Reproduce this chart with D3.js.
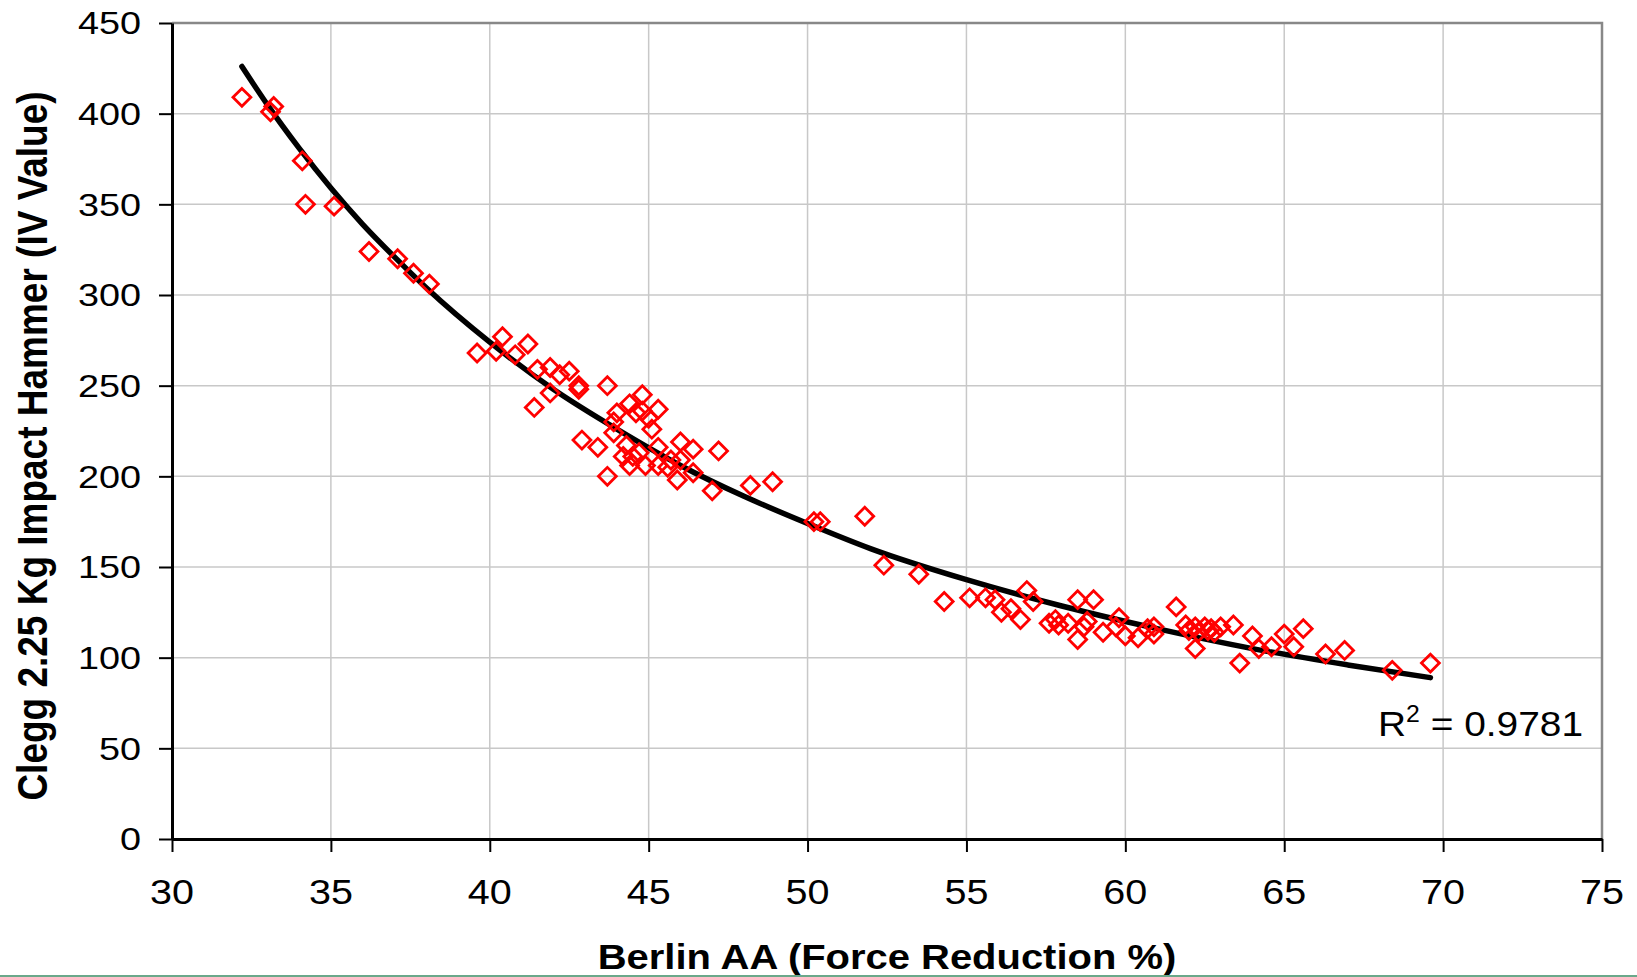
<!DOCTYPE html>
<html>
<head>
<meta charset="utf-8">
<script src="https://cdn.jsdelivr.net/npm/d3@7"></script>
<style>
  html, body { margin: 0; padding: 0; background: #fff; }
  svg { display: block; }
  text { font-family: "Liberation Sans", Arial, sans-serif; fill: #000; }
</style>
</head>
<body>
<div id="chart"></div>
<script>
// Berlin AA force reduction (%) vs Clegg IV value
const forceReduction = [
    32.2, 33.2, 33.1, 34.1, 34.2, 35.1, 36.2, 37.1, 37.6, 38.1,
    39.6, 40.2, 40.4, 40.8, 41.2, 41.4, 41.5, 41.9, 42.2, 42.5,
    41.9, 42.8, 42.8, 42.9, 43.4, 43.7, 43.7, 43.9, 44.0, 43.9,
    44.4, 44.8, 45.3, 44.6, 44.8, 45.0, 45.1, 44.3, 44.2, 44.5,
    44.4, 44.9, 45.3, 45.3, 45.6, 45.7, 46.0, 46.0, 46.4, 45.9,
    46.4, 47.2, 47.0, 48.2, 48.9, 44.7, 50.2, 50.4, 51.8, 52.4,
    53.5, 54.3, 55.1, 55.6, 55.9, 56.1, 56.4, 56.7, 56.9, 57.1,
    57.6, 57.8, 57.9, 58.2, 58.5, 58.5, 58.8, 59.0, 58.7, 59.3,
    59.8, 59.7, 60.0, 60.4, 60.7, 60.9, 60.9, 61.6, 61.9, 62.2,
    62.2, 62.5, 62.7, 63.0, 63.4, 63.6, 64.0, 64.2, 64.6, 65.0,
    65.3, 65.6, 66.3, 66.9, 68.4, 69.6, 62.0, 62.3, 62.6, 62.8
];
const ivValue = [
    409, 404, 401, 374, 350, 349, 324, 320, 312, 306,
    268, 269, 277, 267, 273, 238, 259, 260, 256, 258,
    246, 250, 248, 220, 216, 250, 200, 224, 235, 230,
    240, 245, 237, 235, 236, 232, 226, 217, 211, 211,
    206, 206, 206, 216, 205, 209, 209, 219, 215, 198,
    202, 214, 192, 195, 197, 213, 175, 175, 178, 151,
    146, 131, 133, 133, 132, 125, 127, 121, 137, 131,
    119, 121, 118, 119, 132, 110, 120, 132, 117, 114,
    122, 117, 112, 111, 116, 113, 117, 128, 118, 105,
    117, 117, 116, 117, 118, 97, 112, 105, 106, 113,
    106, 116, 102, 104, 93, 97, 115, 114, 115, 114
];

// trend line
const trendX = [32.2, 33, 34, 35, 36, 37, 38, 40, 42, 44, 46, 48, 50, 52, 55, 58, 61, 64, 67, 69.6];
const trendY = [426, 405, 381, 359, 339, 321, 304, 274, 248, 226, 206, 189, 174, 160, 143, 128.5, 116, 105, 96, 89];

const xTicks = [30, 35, 40, 45, 50, 55, 60, 65, 70, 75];
const yTicks = [0, 50, 100, 150, 200, 250, 300, 350, 400, 450];
const xTitle = 'Berlin AA (Force Reduction %)';
const yTitle = 'Clegg 2.25 Kg Impact Hammer (IV Value)';
const rSquared = '0.9781';

const width = 1637;
const height = 977;
const margin = { top: 23, right: 35, bottom: 138, left: 172 };

const svg = d3.select('#chart')
    .append('svg')
    .attr('width', width)
    .attr('height', height);

const x = d3.scaleLinear()
    .domain([30, 75])
    .range([margin.left, width - margin.right]);

const y = d3.scaleLinear()
    .domain([0, 450])
    .range([height - margin.bottom, margin.top]);

// Gridlines
svg.append('g')
    .selectAll('line')
    .data(xTicks.slice(1, -1))
    .join('line')
    .attr('x1', d => x(d)).attr('x2', d => x(d))
    .attr('y1', y(450)).attr('y2', y(0))
    .attr('stroke', '#c8c8c8')
    .attr('stroke-width', 1.5);

svg.append('g')
    .selectAll('line')
    .data(yTicks.slice(1, -1))
    .join('line')
    .attr('x1', x(30)).attr('x2', x(75))
    .attr('y1', d => y(d)).attr('y2', d => y(d))
    .attr('stroke', '#c8c8c8')
    .attr('stroke-width', 1.5);

// Top and right frame
svg.append('path')
    .attr('d', `M${x(30)},${y(450)}H${x(75)}V${y(0)}`)
    .attr('fill', 'none')
    .attr('stroke', '#888')
    .attr('stroke-width', 2.5);

// Axes
const xAxis = svg.append('g')
    .attr('transform', `translate(0,${y(0)})`)
    .call(d3.axisBottom(x).tickValues(xTicks).tickSize(13).tickSizeOuter(0).tickFormat(''));
const yAxis = svg.append('g')
    .attr('transform', `translate(${x(30)},0)`)
    .call(d3.axisLeft(y).tickValues(yTicks).tickSize(13).tickSizeOuter(0).tickFormat(''));

[xAxis, yAxis].forEach(g => {
    g.select('.domain').attr('stroke', '#000').attr('stroke-width', 3);
    g.selectAll('.tick line').attr('stroke', '#000').attr('stroke-width', 2);
});

// Tick labels (source text is stretched horizontally)
svg.append('g')
    .selectAll('text')
    .data(xTicks)
    .join('text')
    .attr('transform', d => `translate(${x(d)},904) scale(1.13,1)`)
    .attr('text-anchor', 'middle')
    .attr('font-size', 35)
    .text(d => d);

svg.append('g')
    .selectAll('text')
    .data(yTicks)
    .join('text')
    .attr('transform', d => `translate(141,${y(d) + 11.3}) scale(1.2,1)`)
    .attr('text-anchor', 'end')
    .attr('font-size', 31.5)
    .text(d => d);

// Axis titles
svg.append('text')
    .attr('transform', `translate(${(x(30) + x(75)) / 2},969) scale(1.11,1)`)
    .attr('text-anchor', 'middle')
    .attr('font-size', 36)
    .attr('font-weight', 'bold')
    .text(xTitle);

svg.append('text')
    .attr('transform', 'translate(47,446) scale(1.15,1) rotate(-90)')
    .attr('text-anchor', 'middle')
    .attr('font-size', 37)
    .attr('font-weight', 'bold')
    .text(yTitle);

// Trend line
const points = forceReduction.map((d, i) => ({ fr: d, iv: ivValue[i] }));
const trend = trendX.map((d, i) => ({ fr: d, iv: trendY[i] }));

svg.append('path')
    .datum(trend)
    .attr('fill', 'none')
    .attr('stroke', '#000')
    .attr('stroke-width', 5.5)
    .attr('stroke-linecap', 'round')
    .attr('d', d3.line()
        .x(d => x(d.fr))
        .y(d => y(d.iv))
        .curve(d3.curveMonotoneX));

// Scatter markers
const diamond = d3.symbol().type(d3.symbolSquare).size(160);
svg.append('g')
    .selectAll('path')
    .data(points)
    .join('path')
    .attr('d', diamond)
    .attr('transform', d => `translate(${x(d.fr)},${y(d.iv)}) rotate(45)`)
    .attr('fill', 'none')
    .attr('stroke', '#ff0000')
    .attr('stroke-width', 2.8);

// R squared label
const rLabel = svg.append('text')
    .attr('transform', 'translate(1378,736) scale(1.08,1)')
    .attr('font-size', 36);
rLabel.append('tspan').text('R');
rLabel.append('tspan').attr('font-size', 23).attr('dy', -14).text('2');
rLabel.append('tspan').attr('dy', 14).text(` = ${rSquared}`);

// thin green edge at the bottom of the source image
svg.append('rect')
    .attr('x', 0).attr('y', 975)
    .attr('width', width).attr('height', 2)
    .attr('fill', '#6aa88a');
</script>
</body>
</html>
